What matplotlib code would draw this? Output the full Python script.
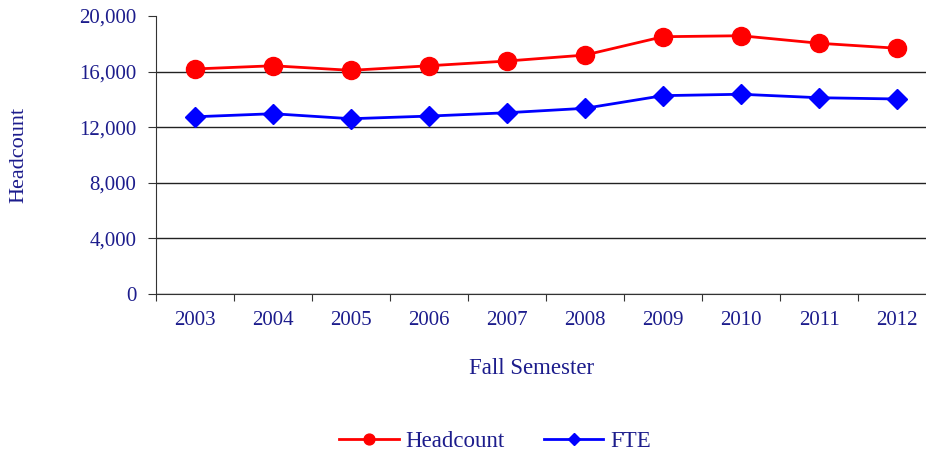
import matplotlib.pyplot as plt
from matplotlib.ticker import FuncFormatter, FixedLocator

years = ["2003", "2004", "2005", "2006", "2007", "2008", "2009", "2010", "2011", "2012"]
headcount = [16190, 16420, 16090, 16420, 16760, 17190, 18510, 18580, 18040, 17680]
fte = [12750, 12970, 12610, 12800, 13040, 13360, 14270, 14370, 14120, 14030]

navy = "#1c1c8c"
tick_size = 15
label_size = 16.5
plt.rcParams["font.family"] = ["Liberation Serif", "DejaVu Serif"]

fig = plt.figure(figsize=(9.26, 4.53), dpi=100)
axs = fig.add_axes([156 / 926, (453 - 294) / 453, 780 / 926, 278 / 453])

x = list(range(len(years)))
axs.plot(x, headcount, color="#ff0000", lw=2, marker="o", ms=13, label="Headcount")
axs.plot(x, fte, color="#0000ff", lw=2, marker="D", ms=10, label="FTE")

axs.set_xlim(-0.5, len(years) - 0.5)
axs.set_ylim(0, 20000)
axs.set_yticks(range(0, 20001, 4000))
axs.yaxis.set_major_formatter(FuncFormatter(lambda v, p: f"{int(v):,}"))

# category boundaries as ticks, labels centred between them
axs.xaxis.set_major_locator(FixedLocator([i - 0.5 for i in range(len(years) + 1)]))
axs.xaxis.set_minor_locator(FixedLocator(x))
axs.set_xticklabels([])
axs.set_xticklabels(years, minor=True)
axs.tick_params(axis="x", which="major", length=5, direction="out", color="#333333")
axs.tick_params(axis="x", which="minor", length=0, pad=12, labelsize=tick_size, labelcolor=navy)
axs.tick_params(axis="y", length=6, direction="out", color="#333333", pad=8,
                labelsize=tick_size, labelcolor=navy)

axs.grid(axis="y", color="#222222", lw=1)
axs.yaxis.get_gridlines()[-1].set_visible(False)
axs.set_axisbelow(True)

for side in ["top", "right"]:
    axs.spines[side].set_visible(False)
axs.spines["left"].set_color("#333333")
axs.spines["bottom"].set_color("#333333")

fig.text(532 / 926, 1 - 369 / 453, "Fall Semester", ha="center", va="center",
         fontsize=label_size, color=navy)
fig.text(19 / 926, 1 - 155 / 453, "Headcount", rotation=90, ha="center", va="center",
         fontsize=16, color=navy)

fig.legend(loc="center", bbox_to_anchor=(495 / 926, 1 - 441 / 453), ncol=2, frameon=False,
           fontsize=label_size, labelcolor=navy, handlelength=2.6, columnspacing=1.7,
           markerscale=0.6, handletextpad=0.3)

fig.savefig("out.png", dpi=100)
